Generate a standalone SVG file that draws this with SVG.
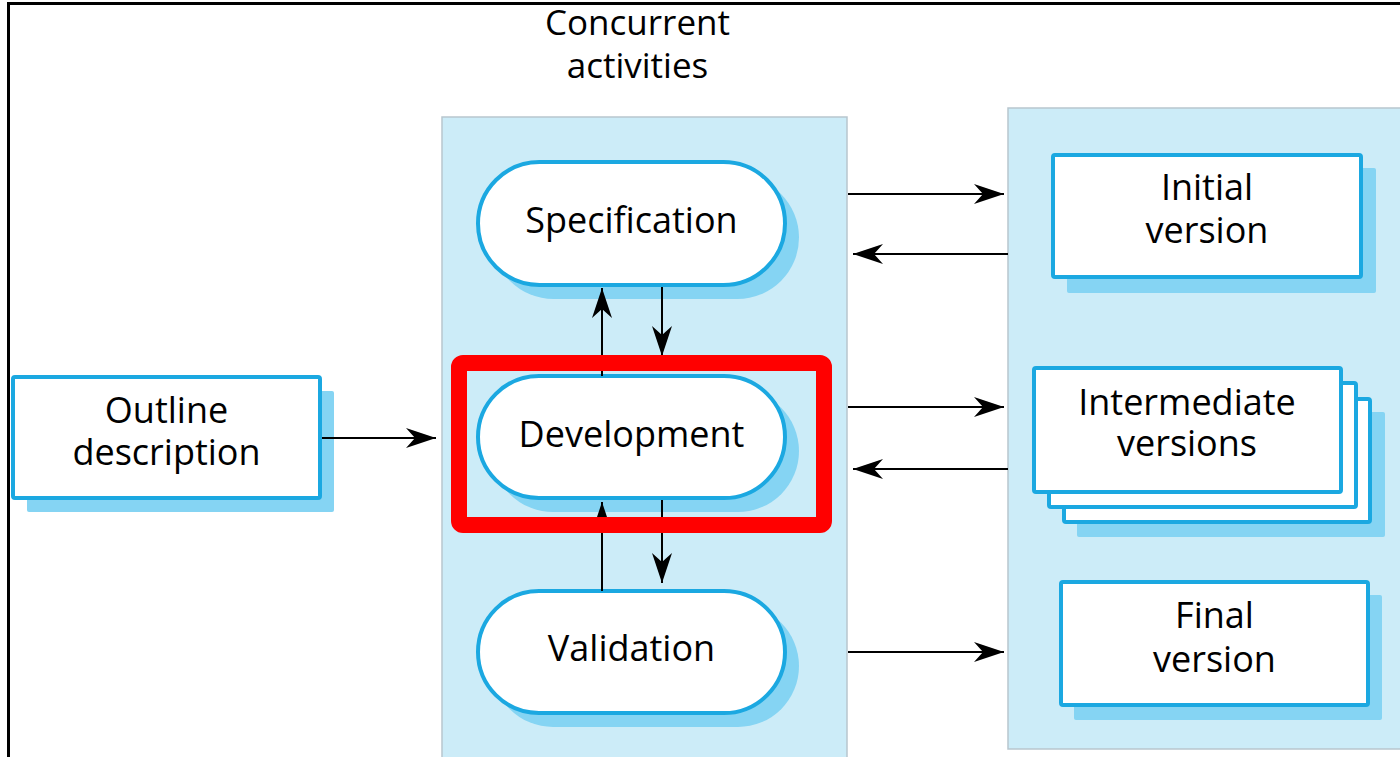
<svg xmlns="http://www.w3.org/2000/svg" width="1400" height="757" viewBox="0 0 1400 757">
  <defs>
    <style>
      .panel { fill: #CCECF8; stroke: #B8C6CE; stroke-width: 1.5; }
      .shadow { fill: #85D4F3; }
      .node { fill: #FFFFFF; stroke: #1BA8E1; stroke-width: 4; }
      .lbl { font-family: "Open Sans", "Noto Sans", sans-serif; font-size: 36px; fill: #000; text-anchor: middle; }
      .title { font-family: "Open Sans", "Noto Sans", sans-serif; font-size: 35px; fill: #000; text-anchor: middle; }
      .conn { fill: none; stroke: #000; stroke-width: 2; marker-end: url(#arrow); }
    </style>
    <marker id="arrow" markerUnits="userSpaceOnUse" markerWidth="34" markerHeight="24" viewBox="-32 -12 34 24" refX="0" refY="0" orient="auto">
      <path d="M0,0 L-30,-10 L-21,0 L-30,10 Z" fill="#000"/>
    </marker>
  </defs>

  <rect x="0" y="0" width="1400" height="757" fill="#FFFFFF"/>
  <rect id="frame" x="8.5" y="3.5" width="1400" height="770" fill="none" stroke="#000" stroke-width="3"/>

  <g id="panel-concurrent">
    <rect class="panel" x="442" y="117" width="405" height="660"/>
    <text class="title" x="637.5" y="35">Concurrent</text>
    <text class="title" x="637.5" y="78">activities</text>
  </g>
  <rect id="panel-versions" class="panel" x="1008" y="108" width="410" height="641"/>

  <g id="outline">
    <rect class="shadow" x="27" y="391" width="307" height="121" rx="2"/>
    <rect class="node" x="13" y="377" width="307" height="121" rx="2"/>
    <text class="lbl" x="166.5" y="423">Outline</text>
    <text class="lbl" x="166.5" y="465">description</text>
  </g>

  <g id="specification">
    <rect class="shadow" x="492" y="176" width="307" height="123" rx="61.5"/>
    <rect class="node" x="478" y="162" width="307" height="123" rx="61.5"/>
    <text class="lbl" x="631.5" y="233">Specification</text>
  </g>
  <g id="development">
    <rect class="shadow" x="492" y="390" width="307" height="122" rx="61"/>
    <rect class="node" x="478" y="376" width="307" height="122" rx="61"/>
    <text class="lbl" x="631.5" y="447">Development</text>
  </g>
  <g id="validation">
    <rect class="shadow" x="492" y="605" width="307" height="122" rx="61"/>
    <rect class="node" x="478" y="591" width="307" height="122" rx="61"/>
    <text class="lbl" x="631.5" y="661">Validation</text>
  </g>

  <g id="initial-version">
    <rect class="shadow" x="1067" y="168" width="309" height="125" rx="2"/>
    <rect class="node" x="1053" y="155" width="308" height="122" rx="2"/>
    <text class="lbl" x="1207" y="200">Initial</text>
    <text class="lbl" x="1207" y="243">version</text>
  </g>

  <g id="intermediate-versions">
    <rect class="shadow" x="1077" y="412" width="308" height="125" rx="2"/>
    <rect class="node" x="1064" y="399" width="306" height="123" rx="2"/>
    <rect class="node" x="1049" y="383" width="307" height="124" rx="2"/>
    <rect class="node" x="1034" y="368" width="307" height="124" rx="2"/>
    <text class="lbl" x="1187" y="415">Intermediate</text>
    <text class="lbl" x="1187" y="456">versions</text>
  </g>

  <g id="final-version">
    <rect class="shadow" x="1074" y="595" width="308" height="125" rx="2"/>
    <rect class="node" x="1061" y="582" width="307" height="123" rx="2"/>
    <text class="lbl" x="1214.5" y="628">Final</text>
    <text class="lbl" x="1214.5" y="672">version</text>
  </g>

  <g id="connectors">
    <path class="conn" d="M322,438 L436,438"/>
    <path class="conn" d="M848,194 L1004,194"/>
    <path class="conn" d="M1008,254 L853,254"/>
    <path class="conn" d="M848,407 L1004,407"/>
    <path class="conn" d="M1008,469 L853,469"/>
    <path class="conn" d="M848,652 L1004,652"/>
    <path class="conn" d="M602,376 L602,288"/>
    <path class="conn" d="M662,287 L662,356"/>
    <path class="conn" d="M602,591 L602,502"/>
    <path class="conn" d="M662,500 L662,583"/>
  </g>

  <g id="highlight">
    <rect x="459" y="363" width="365" height="162" rx="4" fill="none" stroke="#FF0000" stroke-width="16"/>
  </g>
</svg>
